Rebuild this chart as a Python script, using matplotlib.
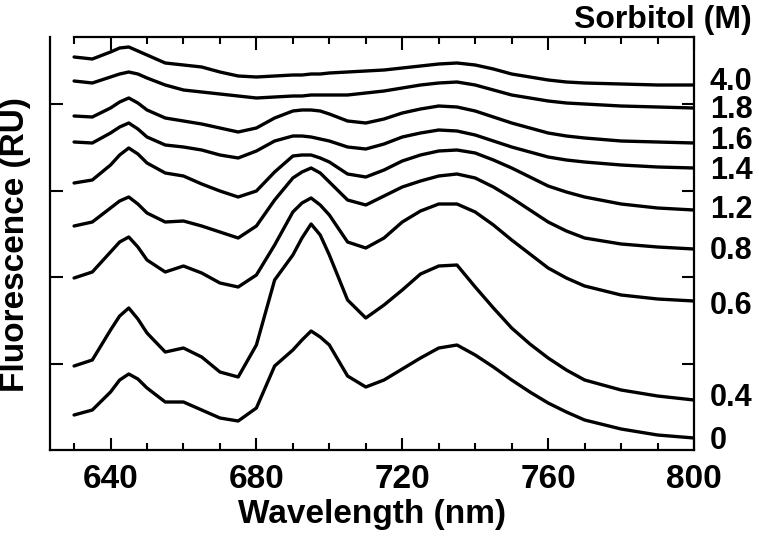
import numpy as np
import matplotlib
matplotlib.use('Agg')
import matplotlib.pyplot as plt
from matplotlib.ticker import MultipleLocator, FixedLocator
import matplotlib.transforms as mtransforms

plt.rcParams['font.family'] = ['Liberation Sans', 'DejaVu Sans']
plt.rcParams['font.weight'] = 'bold'

# Wavelength grid (nm)
wavelength = [630, 635, 640, 642.5, 645, 647.5, 650, 655, 660, 665, 670, 675, 680, 685,
              690, 692.5, 695, 697.5, 700, 705, 710, 715, 720, 725, 730, 735, 740,
              745, 750, 755, 760, 765, 770, 780, 790, 800]

# Stacked fluorescence traces (arbitrary units, offset as in the figure)
f_0 = [35, 40, 58, 70, 76, 71, 62, 48, 48, 40, 32, 29, 42, 84,
       100, 110, 119, 113, 105, 74, 63, 70, 81, 92, 102, 105, 95,
       83, 70, 58, 47, 38, 30, 21, 15, 12]
f_04 = [84, 90, 120, 134, 142, 131, 117, 98, 102, 93, 78, 73, 105, 170,
        195, 212, 226, 215, 195, 150, 132, 145, 160, 176, 184, 185, 163,
        142, 122, 106, 92, 80, 70, 60, 54, 50]
f_06 = [172, 178, 198, 208, 213, 203, 190, 178, 184, 177, 167, 163, 175, 205,
        238, 247, 252, 245, 235, 208, 202, 212, 228, 239, 246, 246, 238,
        225, 210, 196, 182, 172, 164, 155, 151, 149]
f_08 = [224, 228, 242, 249, 253, 246, 237, 228, 229, 224, 218, 212, 224, 250,
        272, 278, 282, 277, 268, 250, 245, 254, 263, 269, 274, 276, 272,
        263, 252, 240, 228, 219, 212, 206, 203, 201]
f_12 = [267, 270, 285, 295, 302, 296, 287, 277, 274, 266, 259, 253, 259, 278,
        294, 295, 295, 292, 288, 276, 273, 280, 289, 295, 299, 300, 297,
        290, 282, 273, 264, 258, 253, 246, 242, 240]
f_14 = [308, 307, 317, 323, 327, 321, 313, 305, 303, 300, 295, 292, 299, 309,
        314, 314, 313, 311, 309, 303, 301, 306, 313, 317, 320, 319, 315,
        309, 303, 298, 293, 290, 288, 285, 283, 282]
f_16 = [334, 333, 342, 348, 352, 347, 340, 332, 329, 326, 322, 318, 322, 332,
        339, 340, 340, 339, 336, 329, 327, 331, 337, 341, 344, 343, 339,
        333, 327, 322, 317, 314, 312, 309, 308, 307]
f_18 = [369, 367, 373, 376, 378, 376, 372, 365, 360, 358, 356, 354, 352, 353,
        354, 354, 355, 355, 355, 355, 357, 359, 362, 365, 367, 368, 365,
        360, 355, 352, 349, 347, 346, 344, 343, 342]
f_40 = [393, 391, 398, 402, 403, 399, 395, 387, 385, 383, 378, 374, 373, 374,
        375, 375, 376, 376, 377, 378, 379, 380, 382, 384, 386, 387, 385,
        381, 376, 373, 370, 368, 367, 366, 365, 365]

series = [f_0, f_04, f_06, f_08, f_12, f_14, f_16, f_18, f_40]
sorbitol_labels = ['0', '0.4', '0.6', '0.8', '1.2', '1.4', '1.6', '1.8', '4.0']
label_baseline = [1, 44, 136, 191, 232, 271, 301, 332, 360]

W, H = 759, 536
fig = plt.figure(figsize=(W / 100, H / 100), dpi=100)
ax = fig.add_axes([50 / W, 86 / H, 644 / W, 413 / H])

for s in series:
    ax.plot(wavelength, s, color='black', lw=2.4,
            solid_joinstyle='round', solid_capstyle='round')

ax.set_xlim(623.4, 800)
ax.set_ylim(0, 413)

ax.xaxis.set_major_locator(FixedLocator([640, 680, 720, 760, 800]))
ax.xaxis.set_minor_locator(MultipleLocator(10))
ax.yaxis.set_major_locator(FixedLocator([86.5, 173, 259.5, 346]))
ax.set_yticklabels([])

for sp in ax.spines.values():
    sp.set_linewidth(1.6)
ax.spines['top'].set_bounds(630, 800)

ax.tick_params(which='both', direction='in', top=True, right=True, width=1.5)
ax.tick_params(which='major', length=9, labelsize=24, pad=10)
ax.tick_params(which='minor', length=5)
for lab in ax.get_xticklabels():
    lab.set_fontweight('bold')

fig.text(372 / W, 1 - 523 / H, 'Wavelength (nm)', ha='center', va='baseline',
         fontsize=24, fontweight='bold')
fig.text(16 / W, 1 - 245 / H, 'Fluorescence (RU)', ha='center', va='center',
         rotation=90, fontsize=24, fontweight='bold')

trans = mtransforms.blended_transform_factory(ax.transAxes, ax.transData)
for lab, yv in zip(sorbitol_labels, label_baseline):
    ax.text(1.0248, yv, lab, transform=trans, ha='left', va='baseline',
            fontsize=22, fontweight='bold', clip_on=False)

fig.text(752 / W, 1 - 5 / H, 'Sorbitol (M)', ha='right', va='top',
         fontsize=23, fontweight='bold')

fig.savefig('out.png', dpi=100)
